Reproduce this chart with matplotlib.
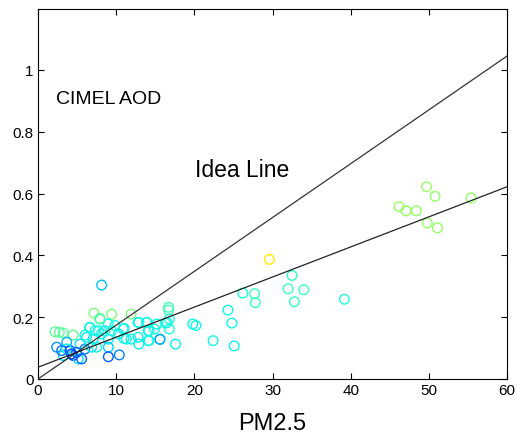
import numpy as np
import matplotlib.pyplot as plt

# PM2.5 vs CIMEL AOD scatter, colours from a third variable (jet scale)
pm25 = [
    46.2, 47.1, 48.4, 49.7, 50.8, 49.8, 51.1, 55.4,
    29.6, 32.5, 32.0, 34.0, 32.8, 39.2, 27.7, 27.8, 26.2,
    24.3, 24.8, 25.1, 22.4, 19.8, 20.2, 17.6, 16.7, 16.7, 16.8, 16.3,
    16.8, 15.6, 14.9, 14.2, 14.2, 13.9, 12.9, 12.9, 11.9, 11.0, 11.0,
    11.9, 8.14, 7.16, 9.42, 2.17, 2.73, 3.24, 4.5, 6.0,
    6.65, 7.93, 8.99, 9.42, 7.71, 10.9, 12.8, 13.9, 14.1, 15.2, 16.5,
    15.6, 14.1, 12.8, 11.3, 9.0, 9.0, 9.0, 10.4, 2.39, 3.67, 3.24,
    4.09, 4.5, 5.15, 5.58, 6.0, 5.37, 6.22, 7.07, 6.86, 7.5, 8.14,
    7.29, 9.85, 10.3, 8.57, 3.67, 4.3, 4.95, 3.03, 7.9, 6.6,
]
aod = [
    0.558, 0.544, 0.544, 0.622, 0.591, 0.505, 0.489, 0.586,
    0.387, 0.335, 0.292, 0.289, 0.250, 0.258, 0.276, 0.247, 0.278,
    0.223, 0.181, 0.107, 0.124, 0.178, 0.173, 0.113, 0.232, 0.223, 0.194, 0.181,
    0.162, 0.128, 0.162, 0.124, 0.156, 0.183, 0.183, 0.113, 0.129, 0.164, 0.131,
    0.210, 0.304, 0.213, 0.210, 0.153, 0.151, 0.149, 0.142, 0.142,
    0.167, 0.194, 0.178, 0.156, 0.156, 0.162, 0.183, 0.183, 0.156, 0.178, 0.183,
    0.129, 0.124, 0.135, 0.129, 0.129, 0.103, 0.072, 0.078, 0.103, 0.119, 0.076,
    0.092, 0.076, 0.065, 0.065, 0.097, 0.113, 0.135, 0.129, 0.103, 0.103, 0.146,
    0.156, 0.173, 0.146, 0.156, 0.097, 0.081, 0.086, 0.092, 0.196, 0.167,
]
cval = [
    0.53, 0.53, 0.53, 0.53, 0.53, 0.53, 0.53, 0.53,
    0.66, 0.41, 0.42, 0.42, 0.41, 0.39, 0.42, 0.41, 0.38,
    0.37, 0.37, 0.36, 0.37, 0.37, 0.37, 0.36, 0.43, 0.43, 0.40, 0.38,
    0.38, 0.30, 0.37, 0.37, 0.37, 0.37, 0.37, 0.36, 0.36, 0.36, 0.37,
    0.50, 0.32, 0.50, 0.50, 0.46, 0.46, 0.46, 0.47, 0.37,
    0.37, 0.37, 0.37, 0.38, 0.37, 0.37, 0.37, 0.37, 0.37, 0.37, 0.37,
    0.30, 0.37, 0.36, 0.37, 0.36, 0.33, 0.22, 0.25, 0.27, 0.30, 0.33,
    0.20, 0.18, 0.35, 0.22, 0.25, 0.35, 0.36, 0.36, 0.35, 0.37, 0.36,
    0.38, 0.37, 0.36, 0.37, 0.36, 0.19, 0.22, 0.24, 0.47, 0.37,
]

line_x = [0, 60]
ideal_y = [0.0, 1.045]
fit_y = [0.038, 0.622]

xticks = [0, 10, 20, 30, 40, 50, 60]
yticks = [0, 0.2, 0.4, 0.6, 0.8, 1]

plt.rcParams['font.family'] = ['Liberation Sans', 'DejaVu Sans']

fig = plt.figure(figsize=(5.17, 4.39), dpi=100)
ax = fig.add_axes([0.0735, 0.1344, 0.9072, 0.8426])

colors = plt.cm.jet(np.array(cval))
ax.scatter(pm25, aod, s=48, facecolors='none', edgecolors=colors, linewidths=1.0, zorder=2)
ax.plot(line_x, ideal_y, color='#333333', lw=0.9, zorder=3)
ax.plot(line_x, fit_y, color='#222222', lw=0.9, zorder=3)

ax.text(2.3, 0.893, 'CIMEL AOD', fontsize=14)
ax.text(20.1, 0.657, 'Idea Line', fontsize=16.5)

ax.set_xlim(0, 60)
ax.set_ylim(0, 1.197)
ax.set_xticks(xticks)
ax.set_yticks(yticks)
ax.set_yticklabels(['0', '0.2', '0.4', '0.6', '0.8', '1'])
ax.tick_params(direction='in', length=4, width=0.8, top=True, right=True,
               labelsize=11, pad=3, colors='black')
for sp in ax.spines.values():
    sp.set_linewidth(0.8)

fig.text(0.527, 0.01, 'PM2.5', fontsize=17, ha='center', va='bottom')

fig.savefig('out.png', dpi=100)
